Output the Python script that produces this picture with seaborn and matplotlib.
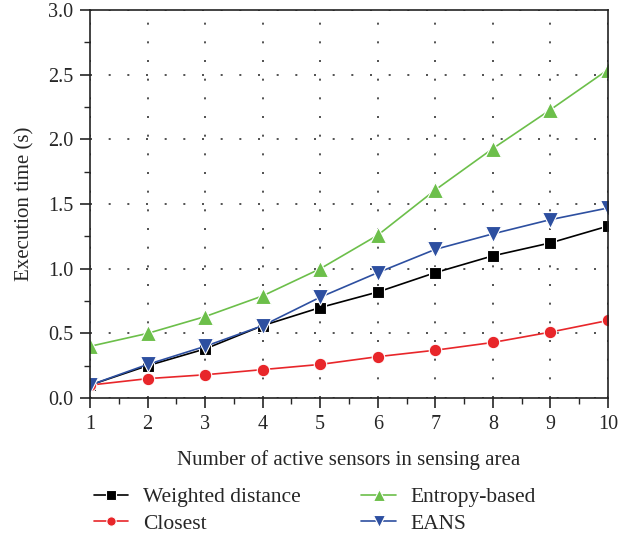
import pandas as pd
import matplotlib
matplotlib.use("Agg")
import matplotlib.pyplot as plt
import seaborn as sns
from matplotlib.ticker import MultipleLocator

# --- Data ---
sensors = [1, 2, 3, 4, 5, 6, 7, 8, 9, 10]
weighted_distance = [0.10, 0.25, 0.38, 0.56, 0.70, 0.82, 0.97, 1.10, 1.20, 1.33]
closest = [0.10, 0.15, 0.18, 0.22, 0.26, 0.32, 0.37, 0.43, 0.51, 0.60]
entropy_based = [0.40, 0.50, 0.63, 0.79, 1.00, 1.26, 1.61, 1.93, 2.23, 2.54]
eans = [0.10, 0.26, 0.40, 0.56, 0.78, 0.97, 1.15, 1.27, 1.38, 1.47]

series = [
    ("Weighted distance", weighted_distance, "#000000", "s", 9),
    ("Closest", closest, "#e8262a", "o", 9),
    ("Entropy-based", entropy_based, "#6cbf4a", "^", 11),
    ("EANS", eans, "#2d4fa0", "v", 11),
]

sns.set_style("ticks")
plt.rcParams['font.family'] = ['Liberation Serif', 'DejaVu Serif']

fig = plt.figure(figsize=(6.34, 5.35), dpi=100)
ax = fig.add_axes([0.142, 0.256, 0.817, 0.725])

for name, vals, color, marker, ms in series:
    df = pd.DataFrame({"x": sensors, "y": vals})
    sns.lineplot(data=df, x="x", y="y", ax=ax, color=color, marker=marker,
                 markersize=ms, markeredgecolor="white", markeredgewidth=0.8,
                 linewidth=1.2, label=name)

ax.set_xlim(1, 10)
ax.set_ylim(0, 3.0)
ax.xaxis.set_major_locator(MultipleLocator(1))
ax.xaxis.set_minor_locator(MultipleLocator(0.5))
ax.yaxis.set_major_locator(MultipleLocator(0.5))
ax.yaxis.set_minor_locator(MultipleLocator(0.25))
ax.yaxis.set_major_formatter(matplotlib.ticker.FormatStrFormatter('%.1f'))
ax.grid(True, which='major', color='#333333', linestyle=(0, (1.2, 10)), linewidth=1.2)
for sp in ax.spines.values():
    sp.set_visible(True)
    sp.set_linewidth(1.2)
    sp.set_color('#222222')
ax.tick_params(which='major', length=7, width=1.2, labelsize=14.5, direction='out', pad=5)
ax.tick_params(which='minor', length=4, width=1.0, direction='out')

ax.set_xlabel('Number of active sensors in sensing area', fontsize=15, labelpad=12)
ax.set_ylabel('Execution time (s)', fontsize=15, labelpad=10)

handles, labels = ax.get_legend_handles_labels()
ax.legend(handles, labels, ncol=2, loc='upper left', bbox_to_anchor=(-0.03, -0.18),
          frameon=False, fontsize=15.5, handlelength=1.6, columnspacing=2.8,
          labelspacing=0.3, handletextpad=0.7, markerscale=0.75)

fig.savefig("out.png", dpi=100)
